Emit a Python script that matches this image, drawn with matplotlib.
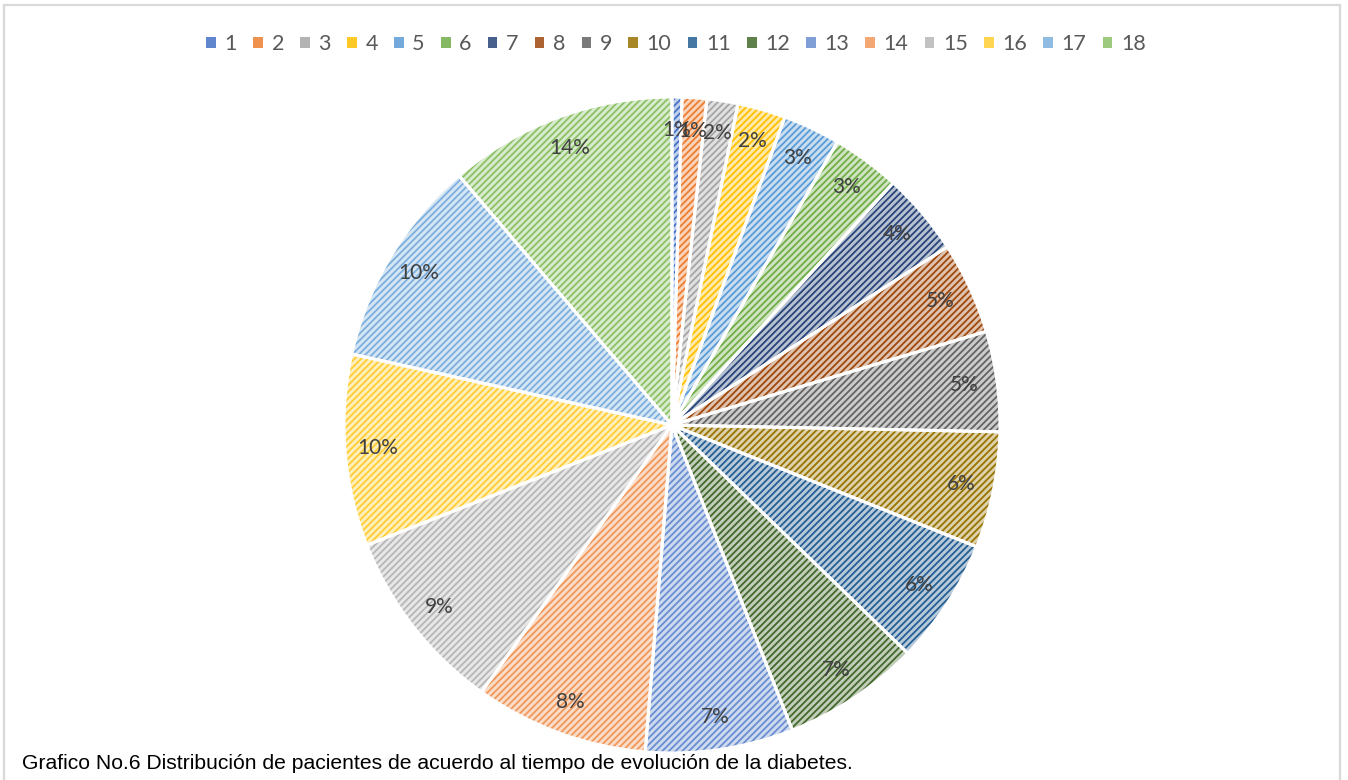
import matplotlib.pyplot as plt
from matplotlib.patches import Patch, Rectangle
from matplotlib.colors import to_rgb

categories = [str(i) for i in range(1, 19)]
# slice sizes (share of the circle, %)
values = [0.49, 1.21, 1.53, 2.36, 2.83, 3.36, 4.08, 4.53, 4.94,
          5.72, 6.19, 6.78, 7.28, 8.56, 9.17, 9.44, 10.28, 11.25]
# the labels as printed on the chart
pct_labels = ["1%", "1%", "2%", "2%", "3%", "3%", "4%", "5%", "5%",
              "6%", "6%", "7%", "7%", "8%", "9%", "10%", "10%", "14%"]
colors = ["#4472C4", "#ED7D31", "#A5A5A5", "#FFC000", "#5B9BD5", "#70AD47",
          "#264478", "#9E480E", "#636363", "#997300", "#255E91", "#43682B",
          "#698ED0", "#F1975A", "#B7B7B7", "#FFCD33", "#7CAFDD", "#8CC168"]
caption = "Grafico No.6 Distribución de pacientes de acuerdo al tiempo de evolución de la diabetes."


def tint(c, f):
    r, g, b = to_rgb(c)
    return (1 - f + f * r, 1 - f + f * g, 1 - f + f * b)


plt.rcParams['hatch.linewidth'] = 1.3

fig = plt.figure(figsize=(13.48, 7.8), dpi=100)
ax = fig.add_axes([0.2552, 0.0346, 0.4866, 0.841])

wedges, texts = ax.pie(values, colors=[tint(c, 0.33) for c in colors],
                       startangle=90, counterclock=False,
                       labels=pct_labels, labeldistance=0.9,
                       textprops=dict(fontsize=15, color="#404040", family="Lato"),
                       wedgeprops=dict(linewidth=0))
for w, c in zip(wedges, colors):
    w.set_hatch("/////")
    w.set_edgecolor(c)
for t in texts:
    t.set_ha("center")
    t.set_va("center")
    t.set_zorder(5)

# white separators on top
ax.pie(values, colors=["none"] * len(values), startangle=90, counterclock=False,
       wedgeprops=dict(edgecolor="white", linewidth=2.2))
ax.set_xlim(-1, 1)
ax.set_ylim(-1, 1)

handles = [Patch(facecolor=tint(c, 0.85), edgecolor="none") for c in colors]
fig.legend(handles, categories, loc="center", bbox_to_anchor=(676 / 1348, 1 - 44 / 780),
           ncol=18, frameon=False, prop=dict(family="Lato", size=15.5),
           labelcolor="#595959", handlelength=0.45, handleheight=0.45,
           handletextpad=0.4, columnspacing=0.75)

fig.text(22 / 1348, 1 - 769 / 780, caption, fontsize=15.2, family="Liberation Sans",
         color="black", va="baseline")

fig.patches.append(Rectangle((4 / 1348, -0.05), 1336 / 1348, 1 - 5 / 780 + 0.05,
                             transform=fig.transFigure, fill=False,
                             edgecolor="#d9d9d9", linewidth=1.6))

fig.savefig("out.png", dpi=100)
